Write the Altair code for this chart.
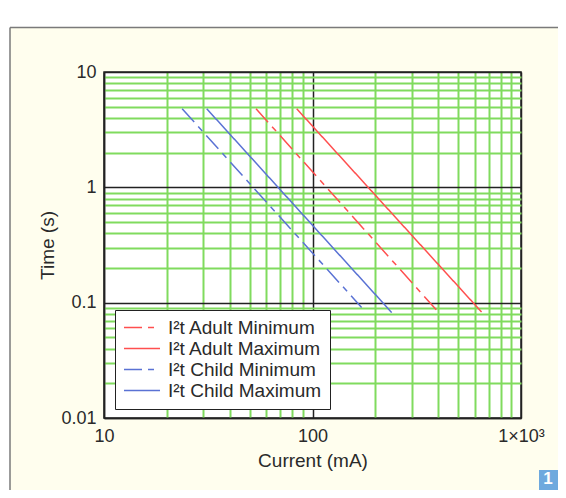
import altair as alt
import pandas as pd

# ---- data ----
series_names = ["I²t Adult Minimum", "I²t Adult Maximum", "I²t Child Minimum", "I²t Child Maximum"]
current_start = [53.6, 84.0, 23.7, 31.1]      # mA
current_end = [401.0, 647.0, 172.0, 240.0]    # mA
time_start = [4.8, 4.8, 4.8, 4.8]             # s
time_end = [0.083, 0.083, 0.091, 0.082]       # s
line_colors = ["#FF4F4F", "#FF4F4F", "#5A72D4", "#5A72D4"]
line_dashes = [[18, 6, 6, 6], [1, 0], [18, 6, 6, 6], [1, 0]]

x_ticks = [10, 20, 30, 40, 50, 60, 70, 80, 90,
           100, 200, 300, 400, 500, 600, 700, 800, 900, 1000]
y_ticks = [0.01, 0.02, 0.03, 0.04, 0.05, 0.06, 0.07, 0.08, 0.09,
           0.1, 0.2, 0.3, 0.4, 0.5, 0.6, 0.7, 0.8, 0.9,
           1, 2, 3, 4, 5, 6, 7, 8, 9, 10]
x_major = [10, 100, 1000]
x_major_labels = ["10", "100", "1×10³"]
y_major = [10, 1, 0.1, 0.01]
y_major_labels = ["10", "1", "0.1", "0.01"]

rows = []
for i, name in enumerate(series_names):
    rows.append({"series": name, "current": current_start[i], "time": time_start[i]})
    rows.append({"series": name, "current": current_end[i], "time": time_end[i]})
df = pd.DataFrame(rows)


def label_expr(vals, labels):
    s = ""
    for v, l in zip(vals, labels):
        s += f"datum.value == {v} ? '{l}' : "
    return s + "''"


def major_test(vals):
    return " || ".join(f"datum.value == {v}" for v in vals)


GREEN = "#80DB5E"
DARK = "#222222"
TEXT = "#2a2a2a"
FONT = "Liberation Sans"

x_axis = alt.Axis(
    values=x_ticks, labelExpr=label_expr(x_major, x_major_labels),
    grid=True,
    gridColor={"condition": {"test": major_test(x_major), "value": DARK}, "value": GREEN},
    gridWidth={"condition": {"test": major_test(x_major), "value": 1.5}, "value": 2},
    ticks=False, domainColor=DARK, domainWidth=1.5,
    labelOverlap=False, labelFlush=False, labelPadding=9,
    labelFontSize=18, labelFont=FONT, labelColor=TEXT,
    title="Current (mA)", titleFontSize=19, titleFont=FONT, titleColor=TEXT,
    titleFontWeight="normal", titleX=208.5, titleY=42, titleBaseline="middle",
    titleAlign="center",
)
y_axis = alt.Axis(
    values=y_ticks, labelExpr=label_expr(y_major, y_major_labels),
    grid=True,
    gridColor={"condition": {"test": major_test(y_major), "value": DARK}, "value": GREEN},
    gridWidth={"condition": {"test": major_test(y_major), "value": 1.5}, "value": 2},
    ticks=False, domainColor=DARK, domainWidth=1.5,
    labelOverlap=False, labelFlush=False, labelPadding=8,
    labelFontSize=18, labelFont=FONT, labelColor=TEXT,
    title="Time (s)", titleFontSize=19, titleFont=FONT, titleColor=TEXT,
    titleFontWeight="normal", titleX=-57, titleY=173, titleBaseline="middle",
    titleAlign="center", titleAngle=270,
)

lines = alt.Chart(df).mark_line(strokeWidth=1.5).encode(
    x=alt.X("current:Q", scale=alt.Scale(type="log", domain=[10, 1000], nice=False), axis=x_axis),
    y=alt.Y("time:Q", scale=alt.Scale(type="log", domain=[0.01, 10], nice=False), axis=y_axis),
    color=alt.Color("series:N", sort=series_names,
                    scale=alt.Scale(domain=series_names, range=line_colors),
                    legend=alt.Legend(title=None, orient="none", legendX=11, legendY=238)),
    strokeDash=alt.StrokeDash("series:N", sort=series_names,
                              scale=alt.Scale(domain=series_names, range=line_dashes),
                              legend=alt.Legend(title=None, orient="none", legendX=11, legendY=238)),
    detail="series:N",
)

one = pd.DataFrame({"k": [0]})
top_strip = alt.Chart(one).mark_rect(color="white").encode(
    x=alt.value(-100), x2=alt.value(470), y=alt.value(-70), y2=alt.value(-44.5))
left_strip = alt.Chart(one).mark_rect(color="white").encode(
    x=alt.value(-100), x2=alt.value(-94), y=alt.value(-70), y2=alt.value(430))
frame_top = alt.Chart(one).mark_rule(color="#7a7a7a", strokeWidth=1.5).encode(
    x=alt.value(-94), x2=alt.value(470), y=alt.value(-44.5))
frame_left = alt.Chart(one).mark_rule(color="#7a7a7a", strokeWidth=1.5).encode(
    x=alt.value(-94), y=alt.value(-44.5), y2=alt.value(430))
badge = alt.Chart(one).mark_rect(color="#6EA9DE").encode(
    x=alt.value(435), x2=alt.value(470), y=alt.value(398), y2=alt.value(430))
badge_text = alt.Chart(pd.DataFrame({"t": ["1"]})).mark_text(
    color="white", fontSize=17, fontWeight="bold", font=FONT).encode(
    x=alt.value(444), y=alt.value(407), text="t:N")

chart = alt.layer(
    top_strip, left_strip, frame_top, frame_left, badge, badge_text, lines
).properties(
    width=417, height=346,
    autosize=alt.AutoSizeParams(type="none"),
    padding={"left": 96, "top": 64, "right": 37, "bottom": 72},
    background="#FFFEEE",
).configure_view(
    fill="white", stroke=DARK, strokeWidth=1.5,
).configure_legend(
    fillColor="white", strokeColor=DARK, padding=8,
    symbolType="stroke", symbolSize=1296, symbolStrokeWidth=1.5,
    labelFontSize=19, labelFont=FONT, labelColor=TEXT, labelOffset=7,
    clipHeight=19, rowPadding=1,
)

chart.save("out.html", embed_options={"renderer": "svg", "actions": False})
